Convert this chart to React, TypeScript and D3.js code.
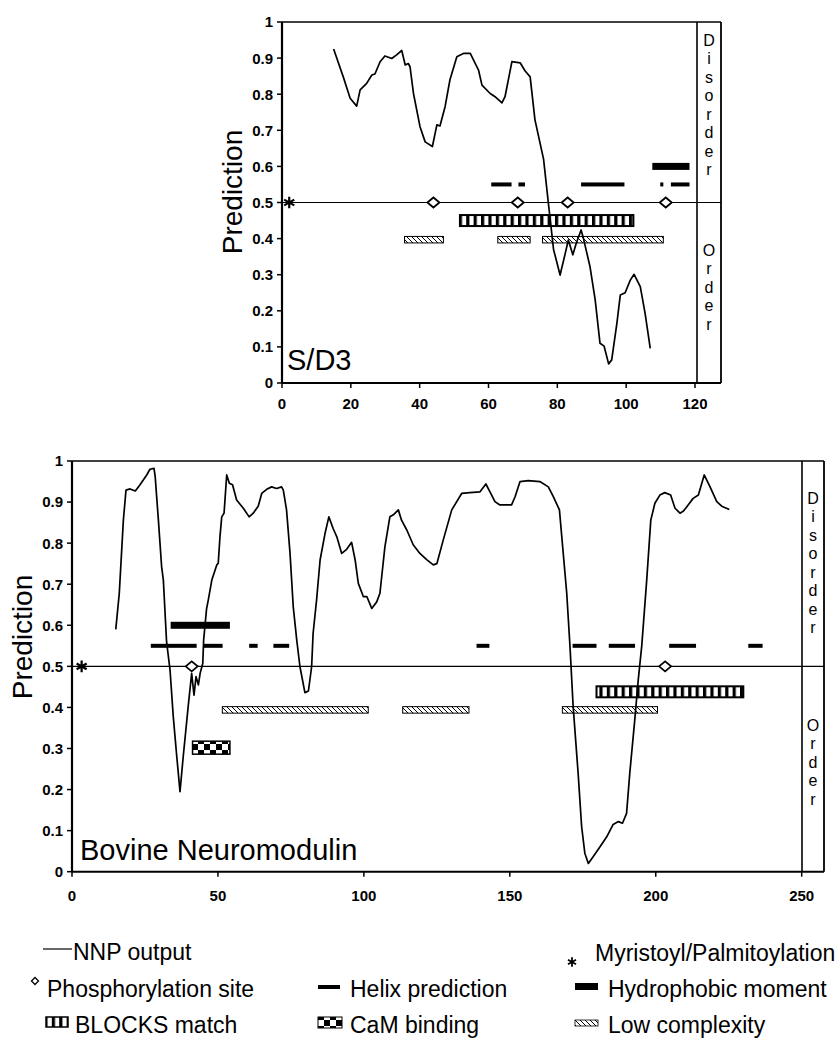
import React from "react";
import * as d3 from "d3";

type Pt = [number, number];
type Seg = [number, number];

/* ---------------------------------------
   S/D3 panel data
-----------------------------------------*/
const sd3Nnp: Pt[] = [
  [15, 0.925], [17.8, 0.848], [19.8, 0.789], [21.7, 0.767], [22.7, 0.812], [24.6, 0.83],
  [26.1, 0.853], [27, 0.856], [28.5, 0.89], [29.9, 0.906], [31.9, 0.899], [33.3, 0.909],
  [34.8, 0.921], [35.8, 0.881], [36.7, 0.885], [37.2, 0.876], [38.2, 0.802], [40.1, 0.71],
  [41.6, 0.668], [43.7, 0.655], [45, 0.715], [45.9, 0.712], [47.4, 0.766], [48.8, 0.84],
  [50.8, 0.904], [52.7, 0.913], [54.7, 0.913], [57.1, 0.867], [58.1, 0.825], [60.5, 0.802],
  [61.9, 0.793], [63.9, 0.776], [64.8, 0.793], [66.8, 0.89], [69.2, 0.887], [70.6, 0.865],
  [72.1, 0.848], [73.5, 0.729], [76, 0.62], [77.4, 0.498], [78.9, 0.37], [80.8, 0.299],
  [82.3, 0.359], [83.2, 0.396], [84.5, 0.355], [85.5, 0.387], [86.9, 0.424], [87.6, 0.4],
  [89.5, 0.322], [91, 0.23], [92.4, 0.11], [93.6, 0.102], [94.9, 0.053], [95.8, 0.064],
  [97.3, 0.165], [98.3, 0.244], [99.7, 0.25], [101.2, 0.285], [102.3, 0.301], [104.1, 0.267],
  [105.5, 0.193], [107, 0.096],
];
const sd3Phospho = [44, 68.5, 83, 111.5];
const sd3Myristoyl = [2.1];
const sd3Helix: Seg[] = [[60.8, 66.7], [68.7, 70.6], [86.9, 99.5], [109.9, 110.8], [113, 118.4]];
const sd3Hydrophobic: Seg[] = [[107.6, 118.4]];
const sd3Blocks: Seg[] = [[51.7, 102.1]];
const sd3LowComplexity: Seg[] = [[35.6, 46.9], [62.7, 72.1], [75.7, 110.8]];
const sd3CaM: Seg[] = [];
const sd3XTicks = [0, 20, 40, 60, 80, 100, 120];

/* ---------------------------------------
   Bovine Neuromodulin panel data
-----------------------------------------*/
const neuroNnp: Pt[] = [
  [15, 0.59], [16.2, 0.678], [17.6, 0.856], [18.5, 0.929], [19.9, 0.932], [21.7, 0.927],
  [23.3, 0.942], [25.6, 0.966], [26.7, 0.98], [28.1, 0.982], [28.5, 0.962], [29.6, 0.856],
  [30.7, 0.743], [31.3, 0.71], [32.4, 0.56], [33.6, 0.49], [34.7, 0.377], [35.9, 0.28],
  [37, 0.195], [38.1, 0.28], [39.8, 0.402], [41, 0.483], [41.8, 0.43], [42.5, 0.475],
  [43.3, 0.455], [43.9, 0.483], [44.8, 0.507], [45.1, 0.564], [46.1, 0.64], [46.7, 0.662],
  [47.9, 0.71], [49.6, 0.747], [50.1, 0.751], [50.7, 0.816], [51.3, 0.864], [52.1, 0.873],
  [53, 0.966], [53.9, 0.946], [55, 0.942], [56.4, 0.905], [58.7, 0.885], [60.7, 0.864],
  [62.1, 0.873], [63.8, 0.89], [65, 0.921], [66.7, 0.931], [68.4, 0.937], [70.1, 0.933],
  [71.8, 0.937], [72.4, 0.929], [73.5, 0.881], [74.7, 0.775], [75.8, 0.645], [77, 0.564],
  [78.1, 0.499], [79.8, 0.436], [81, 0.44], [82.1, 0.499], [82.6, 0.58], [83.8, 0.662],
  [85, 0.759], [86.7, 0.824], [88, 0.864], [89.5, 0.835], [90.7, 0.816], [92.4, 0.775],
  [94.1, 0.785], [95.8, 0.802], [97, 0.759], [98.1, 0.702], [99.8, 0.67], [101, 0.67],
  [102.7, 0.641], [104.4, 0.657], [105.5, 0.678], [107.2, 0.791], [108.9, 0.864], [110.1, 0.869],
  [111.8, 0.881], [112.9, 0.856], [114.7, 0.832], [116.9, 0.796], [119.2, 0.775], [121.5, 0.76],
  [123.8, 0.747], [125, 0.75], [127.2, 0.808], [130.1, 0.881], [133.5, 0.921], [136.3, 0.923],
  [139.8, 0.925], [141.8, 0.944], [143.2, 0.925], [144.9, 0.901], [146.6, 0.893], [150.6, 0.893],
  [151.8, 0.913], [153.5, 0.95], [156.3, 0.952], [160.3, 0.95], [163.2, 0.937], [164.9, 0.913],
  [167, 0.881], [168.3, 0.775], [169.5, 0.678], [170.6, 0.55], [171.7, 0.402], [173.4, 0.24],
  [174.6, 0.11], [175.7, 0.045], [176.9, 0.02], [178.6, 0.037], [180.9, 0.061], [183.2, 0.085],
  [185.4, 0.115], [187.2, 0.122], [188.6, 0.118], [190, 0.142], [191.1, 0.24], [192.8, 0.369],
  [194, 0.467], [195.2, 0.55], [196.9, 0.71], [198.3, 0.856], [199.7, 0.897], [201.4, 0.917],
  [203.1, 0.923], [205.1, 0.917], [206.6, 0.885], [208.3, 0.873], [209.5, 0.878], [211.1, 0.893],
  [212.8, 0.909], [214.6, 0.917], [216.6, 0.966], [218.6, 0.937], [220.9, 0.901], [222.6, 0.89],
  [225.2, 0.882],
];
const neuroPhospho = [41, 203.2];
const neuroMyristoyl = [3.3];
const neuroHelix: Seg[] = [
  [27, 42.7], [45, 51.6], [60.7, 63.6], [69, 74.4], [138.6, 143],
  [171.5, 179.7], [183.9, 192.9], [204.6, 213.8], [231.7, 236.6],
];
const neuroHydrophobic: Seg[] = [[33.8, 54.1]];
const neuroBlocks: Seg[] = [[179.7, 230]];
const neuroLowComplexity: Seg[] = [[51.5, 101.5], [113.3, 136], [168, 200.6]];
const neuroCaM: Seg[] = [[41.3, 54.1]];
const neuroXTicks = [0, 50, 100, 150, 200, 250];

const yTicks = [0, 0.1, 0.2, 0.3, 0.4, 0.5, 0.6, 0.7, 0.8, 0.9, 1];
const yTickLabels = ["0", "0.1", "0.2", "0.3", "0.4", "0.5", "0.6", "0.7", "0.8", "0.9", "1"];

// track levels (prediction units) for the annotation bars
const levelHydrophobic = 0.6;
const levelHelix = 0.55;
const levelSite = 0.5;
const sd3LevelBlocks = 0.45;
const sd3LevelLow = 0.397;
const neuroLevelBlocks = 0.438;
const neuroLevelLow = 0.394;
const levelCaM = 0.302;

const FONT = "'Liberation Sans', Arial, Helvetica, sans-serif";

const diamondPath = (w: number, h: number) =>
  `M${-w / 2},0L0,${-h / 2}L${w / 2},0L0,${h / 2}Z`;

function Panel({ cfg }: { cfg: any }) {
  const x = d3.scaleLinear().domain(cfg.xDomain).range([cfg.left, cfg.plotRight]);
  const y = d3.scaleLinear().domain([0, 1]).range([cfg.bottom, cfg.top]);
  const line = d3
    .line<Pt>()
    .x((d) => x(d[0]))
    .y((d) => y(d[1]));
  const asterisk = d3.symbol().type(d3.symbolAsterisk).size(95)();

  const bars = (segs: Seg[], level: number, h: number, fill: string, sw: number, key: string) =>
    segs.map((s, i) => (
      <rect
        key={key + i}
        x={x(s[0])}
        y={y(level) - h / 2}
        width={x(s[1]) - x(s[0])}
        height={h}
        fill={fill}
        stroke="#000"
        strokeWidth={sw}
      />
    ));

  return (
    <g>
      {/* frame + side box */}
      <line x1={cfg.left} x2={cfg.boxRight} y1={cfg.top} y2={cfg.top} stroke="#000" strokeWidth={1.6} />
      <line x1={cfg.boxLeft} x2={cfg.boxLeft} y1={cfg.top} y2={cfg.bottom} stroke="#000" strokeWidth={1.6} />
      <line x1={cfg.boxRight} x2={cfg.boxRight} y1={cfg.top} y2={cfg.bottom} stroke="#000" strokeWidth={1.8} />
      <line x1={cfg.left} x2={cfg.boxRight} y1={cfg.bottom} y2={cfg.bottom} stroke="#000" strokeWidth={2} />
      <line x1={cfg.left} x2={cfg.left} y1={cfg.top} y2={cfg.bottom} stroke="#000" strokeWidth={2.2} />

      {/* y ticks */}
      {yTicks.map((t, i) => (
        <g key={"yt" + i}>
          <line x1={cfg.left - 5} x2={cfg.left} y1={y(t)} y2={y(t)} stroke="#000" strokeWidth={1.5} />
          <text
            x={cfg.left - 9}
            y={y(t)}
            dy="0.36em"
            textAnchor="end"
            fontFamily={FONT}
            fontWeight="bold"
            fontSize={15}
          >
            {yTickLabels[i]}
          </text>
        </g>
      ))}
      {/* x ticks */}
      {cfg.xTicks.map((t: number) => (
        <g key={"xt" + t}>
          <line x1={x(t)} x2={x(t)} y1={cfg.bottom} y2={cfg.bottom + 5} stroke="#000" strokeWidth={1.5} />
          <text
            x={x(t)}
            y={cfg.xLabelY}
            textAnchor="middle"
            fontFamily={FONT}
            fontWeight="bold"
            fontSize={15}
          >
            {t}
          </text>
        </g>
      ))}

      {/* y axis title */}
      <text
        transform={`translate(${cfg.yTitleX},${cfg.yTitleY}) rotate(-90)`}
        textAnchor="middle"
        fontFamily={FONT}
        fontSize={28}
      >
        Prediction
      </text>

      {/* Disorder / Order */}
      {"Disorder".split("").map((c, i) => (
        <text
          key={"dis" + i}
          x={(cfg.boxLeft + cfg.boxRight) / 2}
          y={cfg.disorderY + i * 18.5}
          dy="0.35em"
          textAnchor="middle"
          fontFamily={FONT}
          fontSize={16}
        >
          {c}
        </text>
      ))}
      {"Order".split("").map((c, i) => (
        <text
          key={"ord" + i}
          x={(cfg.boxLeft + cfg.boxRight) / 2}
          y={cfg.orderY + i * 18.6}
          dy="0.35em"
          textAnchor="middle"
          fontFamily={FONT}
          fontSize={16}
        >
          {c}
        </text>
      ))}

      {/* 0.5 threshold line */}
      <line x1={cfg.left} x2={cfg.boxRight} y1={y(0.5)} y2={y(0.5)} stroke="#000" strokeWidth={1.2} />

      {/* annotation bars */}
      {bars(cfg.hydrophobic, levelHydrophobic, 7, "#000", 0, "hy")}
      {bars(cfg.helix, levelHelix, 4, "#000", 0, "he")}
      {bars(cfg.blocks, cfg.levelBlocks, 11, "url(#blocksPat)", 2, "bl")}
      {bars(cfg.low, cfg.levelLow, 6.5, "url(#hatchPat)", 1, "lc")}
      {bars(cfg.cam, levelCaM, 13, "url(#checkPat)", 1.5, "cam")}

      {/* phosphorylation sites */}
      {cfg.phospho.map((p: number, i: number) => (
        <path
          key={"ph" + i}
          d={diamondPath(12, 10)}
          transform={`translate(${x(p)},${y(levelSite)})`}
          fill="#fff"
          stroke="#000"
          strokeWidth={1.8}
        />
      ))}

      {/* NNP output */}
      <path d={line(cfg.nnp) || ""} fill="none" stroke="#000" strokeWidth={1.7} strokeLinejoin="round" />

      {/* myristoyl */}
      {cfg.myristoyl.map((p: number, i: number) => (
        <path
          key={"my" + i}
          d={asterisk || ""}
          transform={`translate(${x(p)},${y(levelSite)})`}
          fill="none"
          stroke="#000"
          strokeWidth={2.2}
        />
      ))}

      {/* panel title */}
      <text x={cfg.titleX} y={cfg.titleY} fontFamily={FONT} fontSize={29}>
        {cfg.title}
      </text>
    </g>
  );
}

const sd3Cfg = {
  title: "S/D3",
  xDomain: [0, 120],
  left: 282,
  plotRight: 695,
  boxLeft: 697,
  boxRight: 721,
  top: 22,
  bottom: 383,
  xTicks: sd3XTicks,
  xLabelY: 409,
  yTitleX: 242,
  yTitleY: 192,
  disorderY: 40,
  orderY: 250,
  titleX: 287,
  titleY: 370,
  nnp: sd3Nnp,
  phospho: sd3Phospho,
  myristoyl: sd3Myristoyl,
  helix: sd3Helix,
  hydrophobic: sd3Hydrophobic,
  blocks: sd3Blocks,
  low: sd3LowComplexity,
  cam: sd3CaM,
  levelBlocks: sd3LevelBlocks,
  levelLow: sd3LevelLow,
};

const neuroCfg = {
  title: "Bovine Neuromodulin",
  xDomain: [0, 250],
  left: 72,
  plotRight: 801.7,
  boxLeft: 802,
  boxRight: 824,
  top: 461,
  bottom: 871.7,
  xTicks: neuroXTicks,
  xLabelY: 901,
  yTitleX: 32,
  yTitleY: 637,
  disorderY: 498,
  orderY: 725,
  titleX: 80,
  titleY: 860,
  nnp: neuroNnp,
  phospho: neuroPhospho,
  myristoyl: neuroMyristoyl,
  helix: neuroHelix,
  hydrophobic: neuroHydrophobic,
  blocks: neuroBlocks,
  low: neuroLowComplexity,
  cam: neuroCaM,
  levelBlocks: neuroLevelBlocks,
  levelLow: neuroLevelLow,
};

function Legend() {
  const asterisk = d3.symbol().type(d3.symbolAsterisk).size(60)();
  const t = { fontFamily: FONT, fontSize: 23 };
  return (
    <g>
      {/* row 1 */}
      <line x1={43} x2={72} y1={949} y2={949} stroke="#000" strokeWidth={1.2} />
      <text x={73} y={960} {...t}>NNP output</text>
      <path d={asterisk || ""} transform="translate(572,962)" fill="none" stroke="#000" strokeWidth={1.8} />
      <text x={595} y={961} {...t}>Myristoyl/Palmitoylation</text>

      {/* row 2 */}
      <path d={diamondPath(7, 7)} transform="translate(35,981)" fill="#fff" stroke="#000" strokeWidth={1.3} />
      <text x={47} y={997} {...t}>Phosphorylation site</text>
      <rect x={318} y={985} width={22} height={4} fill="#000" />
      <text x={350} y={997} {...t}>Helix prediction</text>
      <rect x={575} y={983} width={23} height={7} fill="#000" />
      <text x={608} y={997} {...t}>Hydrophobic moment</text>

      {/* row 3 */}
      <rect x={46} y={1017} width={22} height={10} fill="url(#blocksPat)" stroke="#000" strokeWidth={1.5} />
      <text x={75} y={1033} {...t}>BLOCKS match</text>
      <rect x={318} y={1017} width={24} height={11} fill="url(#checkPat)" stroke="#000" strokeWidth={1} />
      <text x={350} y={1033} {...t}>CaM binding</text>
      <rect x={575} y={1020} width={23} height={6} fill="url(#hatchPat)" stroke="#000" strokeWidth={0.8} />
      <text x={608} y={1033} {...t}>Low complexity</text>
    </g>
  );
}

export default function App() {
  return (
    <svg
      width={839}
      height={1045}
      viewBox="0 0 839 1045"
      style={{ position: "absolute", left: 0, top: 0, background: "#fff" }}
    >
      <defs>
        <pattern id="blocksPat" patternUnits="userSpaceOnUse" width={7.4} height={20}>
          <rect width={7.4} height={20} fill="#fff" />
          <rect width={3.2} height={20} fill="#000" />
        </pattern>
        <pattern id="hatchPat" patternUnits="userSpaceOnUse" width={5} height={5}>
          <rect width={5} height={5} fill="#fff" />
          <path d="M0,0L5,5M-1,4L1,6M4,-1L6,1" stroke="#000" strokeWidth={1} />
        </pattern>
        <pattern id="checkPat" patternUnits="userSpaceOnUse" width={12} height={12}>
          <rect width={12} height={12} fill="#fff" />
          <rect width={6} height={6} fill="#000" />
          <rect x={6} y={6} width={6} height={6} fill="#000" />
        </pattern>
      </defs>
      <rect width={839} height={1045} fill="#fff" />
      <Panel cfg={sd3Cfg} />
      <Panel cfg={neuroCfg} />
      <Legend />
    </svg>
  );
}
